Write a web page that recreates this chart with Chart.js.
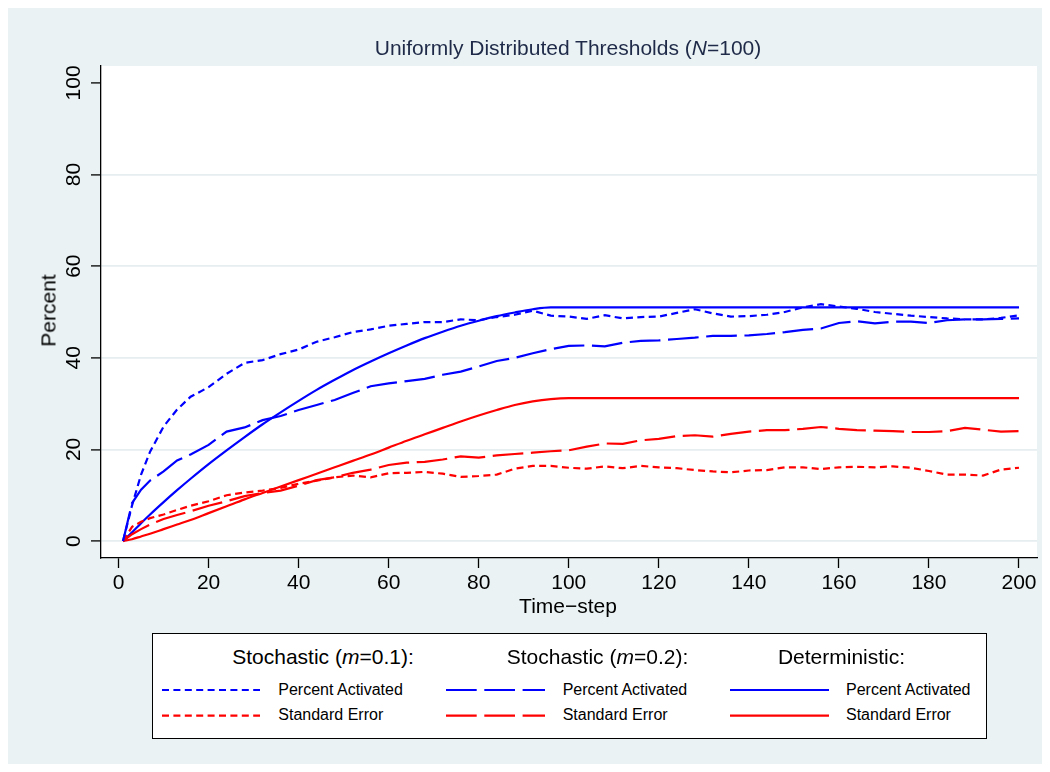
<!DOCTYPE html>
<html>
<head>
<meta charset="utf-8">
<script src="https://cdn.jsdelivr.net/npm/chart.js@4.4.0/dist/chart.umd.min.js"></script>
<style>
  html, body { margin: 0; padding: 0; background: #ffffff; }
  body { width: 1050px; height: 772px; position: relative; overflow: hidden;
         font-family: "Liberation Sans", Arial, sans-serif; }
  #frame { position: absolute; left: 8px; top: 8px; width: 1034px; height: 756px; background: #eaf2f3; }
  #c { position: absolute; left: 0; top: 0; }
  .txt { position: absolute; line-height: 1; white-space: nowrap; color: #000; }
  .big { font-size: 21px; height: 21px; }
  .small { font-size: 16px; height: 16px; }
  #legendBox { position: absolute; left: 152px; top: 633px; width: 835px; height: 106px;
               box-sizing: border-box; border: 1px solid #000; background: #fff; }
  #swatches { position: absolute; left: 0; top: 0; }
</style>
</head>
<body>
<div id="frame"></div>
<canvas id="c" width="1050" height="772"></canvas>

<div class="txt big" style="left:268px; top:37px; width:600px; text-align:center; color:#1e2a48;">Uniformly Distributed Thresholds (<i>N</i>=100)</div>
<div class="txt big" style="left:268px; top:595px; width:600px; text-align:center;">Time−step</div>
<div class="txt big" style="left:-52px; top:299.5px; width:200px; text-align:center; transform:rotate(-90deg);">Percent</div>

<div id="legendBox"></div>
<svg id="swatches" width="1050" height="772">
  <line x1="162" y1="690" x2="260" y2="690" stroke="#0000ff" stroke-width="2.2" stroke-dasharray="7 4.4"/>
  <line x1="162" y1="715.7" x2="260" y2="715.7" stroke="#ff0000" stroke-width="2.2" stroke-dasharray="7 4.4"/>
  <line x1="446" y1="690" x2="545" y2="690" stroke="#0000ff" stroke-width="2.2" stroke-dasharray="30.7 7.6"/>
  <line x1="446" y1="715.7" x2="545" y2="715.7" stroke="#ff0000" stroke-width="2.2" stroke-dasharray="30.7 7.6"/>
  <line x1="730" y1="690" x2="829" y2="690" stroke="#0000ff" stroke-width="2.2"/>
  <line x1="730" y1="715.7" x2="829" y2="715.7" stroke="#ff0000" stroke-width="2.2"/>
</svg>
<div class="txt big" style="left:173px; top:645.5px; width:300px; text-align:center;">Stochastic (<i>m</i>=0.1):</div>
<div class="txt big" style="left:447.5px; top:645.5px; width:300px; text-align:center;">Stochastic (<i>m</i>=0.2):</div>
<div class="txt big" style="left:691.5px; top:645.5px; width:300px; text-align:center;">Deterministic:</div>
<div class="txt small" style="left:278.3px; top:681.5px;">Percent Activated</div>
<div class="txt small" style="left:278.3px; top:707.2px;">Standard Error</div>
<div class="txt small" style="left:562.7px; top:681.5px;">Percent Activated</div>
<div class="txt small" style="left:562.7px; top:707.2px;">Standard Error</div>
<div class="txt small" style="left:846px; top:681.5px;">Percent Activated</div>
<div class="txt small" style="left:846px; top:707.2px;">Standard Error</div>

<script>
const steps = [1,3,5,7,10,13,16,20,24,28,32,36,40,44,48,52,56,60,64,68,72,76,80,84,88,92,96,100,
  104,108,112,116,120,124,128,132,136,140,144,148,152,156,160,164,168,172,176,180,184,188,192,196,200];

// Stochastic (m=0.1)
const stoch1Pct = [0,7.8,14.5,19.5,25.0,28.7,31.5,33.6,36.5,38.9,39.5,40.8,41.8,43.5,44.5,45.6,46.2,47.0,
  47.4,47.8,47.8,48.4,48.2,48.9,49.4,50.3,49.2,49.0,48.5,49.3,48.6,48.9,49.0,49.8,50.6,49.7,49.0,49.1,
  49.4,50.0,51.0,51.7,51.2,50.7,50.0,49.6,49.2,48.9,48.6,48.4,48.4,48.7,49.3];
const stoch1SE = [0,3.1,4.2,5.0,5.8,6.8,7.7,8.7,10.0,10.6,11.0,11.6,12.5,13.2,13.9,14.3,13.9,14.8,14.9,
  15.1,14.7,14.0,14.2,14.5,15.8,16.4,16.4,16.0,15.8,16.3,15.9,16.4,16.1,15.9,15.5,15.2,15.0,15.4,15.5,
  16.1,16.1,15.7,16.1,16.2,16.1,16.3,16.0,15.3,14.5,14.5,14.3,15.6,16.0];

// Stochastic (m=0.2)
const stoch2Pct = [0,8.3,11.2,13.2,15.2,17.6,18.9,21.0,23.9,24.8,26.4,27.3,28.6,29.7,30.8,32.3,33.8,34.4,
  34.9,35.4,36.3,37.0,38.1,39.3,40.0,41.0,41.9,42.6,42.7,42.5,43.3,43.7,43.8,44.1,44.4,44.8,44.8,44.9,
  45.2,45.6,46.1,46.4,47.6,48.0,47.5,47.9,47.9,47.6,48.2,48.4,48.4,48.5,48.6];
const stoch2SE = [0,1.5,2.6,3.6,4.8,5.7,6.5,7.7,8.7,9.8,10.5,11.0,12.1,13.3,13.9,14.9,15.6,16.6,17.1,
  17.3,17.8,18.5,18.2,18.7,19.0,19.3,19.6,19.8,20.6,21.3,21.2,22.0,22.3,22.9,23.1,22.8,23.4,23.9,24.2,
  24.2,24.5,24.9,24.5,24.2,24.1,24.0,23.8,23.8,24.0,24.7,24.3,23.9,24.0];

// Deterministic
const detPct = [0,1.9,3.9,5.8,8.5,11.1,13.6,16.8,19.8,22.7,25.5,28.1,30.6,33.0,35.2,37.3,39.2,41.0,
  42.7,44.3,45.7,47.0,48.1,49.1,49.9,50.6,51.0,51,51,51,51,51,51,51,51,51,51,51,51,51,51,51,51,51,51,
  51,51,51,51,51,51,51,51];
const detSE = [0,0.4,1.0,1.6,2.6,3.6,4.6,6.1,7.6,9.1,10.5,11.9,13.3,14.7,16.1,17.5,18.9,20.4,21.9,
  23.3,24.7,26.1,27.4,28.6,29.7,30.5,31.0,31.2,31.2,31.2,31.2,31.2,31.2,31.2,31.2,31.2,31.2,31.2,31.2,
  31.2,31.2,31.2,31.2,31.2,31.2,31.2,31.2,31.2,31.2,31.2,31.2,31.2,31.2];

const xTicks = [0,20,40,60,80,100,120,140,160,180,200];
const yTicks = [0,20,40,60,80,100];

const BLUE = '#0000ff';
const RED = '#ff0000';
const DOTS = [7, 4.4];
const LONG = [30.7, 7.6];

function series(values, color, dash, smooth) {
  return {
    data: steps.map((t, i) => ({ x: t, y: values[i] })),
    borderColor: color,
    borderWidth: 2.2,
    borderDash: dash,
    pointRadius: 0,
    fill: false,
    cubicInterpolationMode: smooth ? 'monotone' : 'default',
    tension: 0
  };
}

// white plot region + tick labels
const plotPaper = {
  id: 'plotPaper',
  beforeDraw(chart) {
    const { ctx, chartArea: a } = chart;
    ctx.save();
    ctx.fillStyle = '#ffffff';
    ctx.fillRect(a.left, a.top, a.right - a.left, a.bottom - a.top);
    ctx.restore();
  },
  afterDraw(chart) {
    const { ctx, chartArea: a } = chart;
    const xs = chart.scales.x;
    const ys = chart.scales.y;
    ctx.save();
    ctx.fillStyle = '#000';
    ctx.font = '21px "Liberation Sans", Arial, sans-serif';
    ctx.textAlign = 'center';
    ctx.textBaseline = 'alphabetic';
    xTicks.forEach(v => ctx.fillText(String(v), xs.getPixelForValue(v), a.bottom + 31));
    yTicks.forEach(v => {
      ctx.save();
      ctx.translate(a.left - 21, ys.getPixelForValue(v));
      ctx.rotate(-Math.PI / 2);
      ctx.fillText(String(v), 0, 0);
      ctx.restore();
    });
    ctx.restore();
  }
};

new Chart(document.getElementById('c'), {
  type: 'line',
  data: {
    datasets: [
      series(stoch1Pct, BLUE, DOTS, false),
      series(stoch1SE, RED, DOTS, false),
      series(stoch2Pct, BLUE, LONG, false),
      series(stoch2SE, RED, LONG, false),
      series(detPct, BLUE, [], true),
      series(detSE, RED, [], true)
    ]
  },
  plugins: [plotPaper],
  options: {
    responsive: false,
    animation: false,
    devicePixelRatio: 1,
    events: [],
    layout: { padding: { top: 66, right: 13, left: 0, bottom: 0 } },
    plugins: {
      legend: { display: false },
      title: { display: false },
      tooltip: { enabled: false }
    },
    scales: {
      x: {
        type: 'linear',
        min: -3.9,
        max: 204,
        afterBuildTicks: s => { s.ticks = xTicks.map(v => ({ value: v })); },
        afterFit: s => { s.height = 214; },
        ticks: { display: false },
        grid: { drawOnChartArea: false, drawTicks: true, tickLength: 10, tickColor: '#000', tickWidth: 1.3 },
        border: { display: true, color: '#000', width: 1.3 }
      },
      y: {
        type: 'linear',
        min: -3.7,
        max: 103.7,
        afterBuildTicks: s => { s.ticks = yTicks.map(v => ({ value: v })); },
        afterFit: s => { s.width = 101; },
        ticks: { display: false },
        grid: {
          color: ctx => (ctx.tick && ctx.tick.value < 100) ? '#e6eef0' : 'rgba(0,0,0,0)',
          lineWidth: 1.8,
          drawTicks: true,
          tickLength: 10,
          tickColor: '#000',
          tickWidth: 1.3
        },
        border: { display: true, color: '#000', width: 1.3 }
      }
    }
  }
});
</script>
</body>
</html>
